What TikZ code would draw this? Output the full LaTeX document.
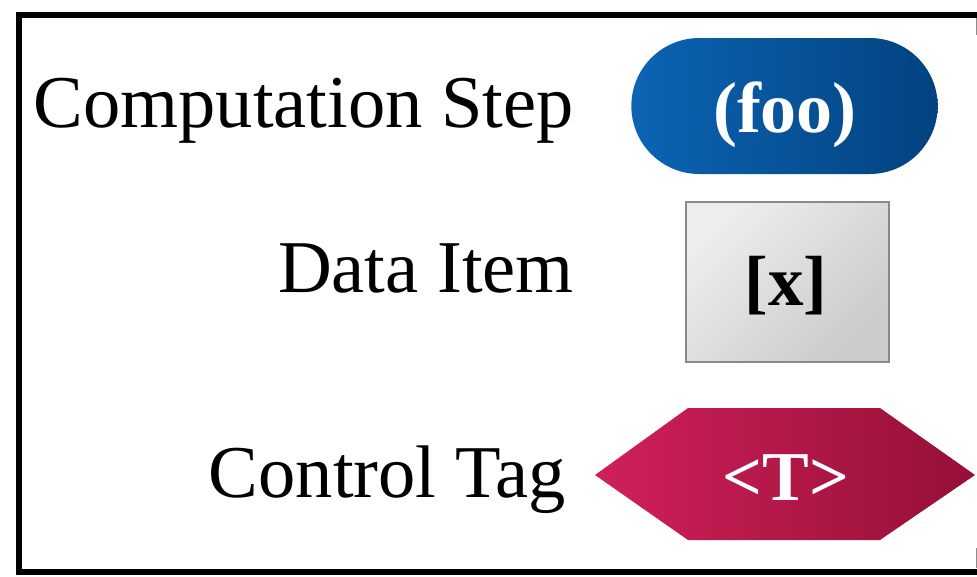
\documentclass[tikz,border=0pt]{standalone}
\usepackage{fontspec}
\setmainfont{Liberation Serif}
\usetikzlibrary{shapes.misc}
\definecolor{stepL}{HTML}{0C64B3}
\definecolor{stepR}{HTML}{02427F}
\definecolor{dataL}{HTML}{EDEDED}
\definecolor{dataR}{HTML}{CBCBCB}
\definecolor{dataEdge}{HTML}{8A8A8A}
\definecolor{tagL}{HTML}{D0205A}
\definecolor{tagR}{HTML}{941036}
\begin{document}
\begin{tikzpicture}[x=1pt,y=-1pt,
  legendtext/.style={anchor=base east, inner sep=0pt, font=\fontsize{74.5}{80}\selectfont},
  glyphtext/.style={anchor=base, inner sep=0pt, font=\fontsize{72}{78}\selectfont},
  stepshape/.style={rounded rectangle, draw=none, minimum width=313pt, minimum height=136pt,
                    left color=stepL, right color=stepR},
  datashape/.style={rectangle, draw=dataEdge, line width=1.4pt, minimum width=203pt, minimum height=160pt,
                    top color=dataL, bottom color=dataR, shading angle=45},
]
\useasboundingbox (0,0) rectangle (977,576);

% outer frame, running off the right edge
\begin{scope}
  \clip (0,0) rectangle (977,576);
  \draw[line width=6pt] (19,15) rectangle (1000,571.5);
\end{scope}
\draw[black!45, line width=0.9pt] (976,18) -- (976,35);
\draw[black!45, line width=0.9pt] (976,548) -- (976,568);

% legend labels
\node[legendtext] (lstep) at (574,127) {Computation Step};
\node[legendtext] (ldata) at (574,292) {Data Item};
\node[legendtext] (ltag)  at (566,497) {Control Tag};

% computation step symbol
\node[stepshape] (step) at (784.5,106) {};
\node[glyphtext, text=white, font=\fontsize{72}{78}\selectfont\bfseries] (steptext) at (785,132) {(foo)};

% data item symbol
\node[datashape] (data) at (787.5,282) {};
\node[glyphtext, text=black, font=\fontsize{71}{78}\selectfont\bfseries] (datatext) at (786,305) {[x]};

% control tag symbol
\coordinate (tW) at (595,475);
\coordinate (tE) at (975,475);
\shade[left color=tagL, right color=tagR]
  (tW) -- (688,408) -- (880,408) -- (tE) -- (880,540) -- (688,540) -- cycle;
\node[glyphtext, text=white, font=\fontsize{70}{78}\selectfont\bfseries] (tagtext) at (786,500) {<T>};
\end{tikzpicture}
\end{document}
